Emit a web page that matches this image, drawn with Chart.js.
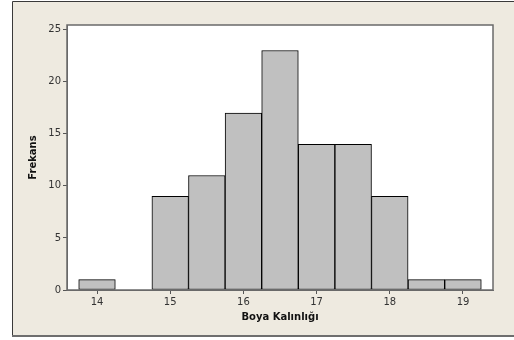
<!DOCTYPE html>
<html>
<head>
<meta charset="utf-8">
<script src="https://cdn.jsdelivr.net/npm/chart.js@4.4.1/dist/chart.umd.min.js"></script>
<style>
  html, body { margin: 0; padding: 0; background: #ffffff; }
  #wrap { width: 514px; height: 340px; position: relative; }
</style>
</head>
<body>
<div id="wrap"><canvas id="c" width="514" height="340"></canvas></div>
<script>
// Bin centres (paint thickness) and their counts
const binCenters = [14, 14.5, 15, 15.5, 16, 16.5, 17, 17.5, 18, 18.5, 19];
const frequencies = [1, 0, 9, 11, 17, 23, 14, 14, 9, 1, 1];
const xTickValues = [14, 15, 16, 17, 18, 19];
const yTickValues = [0, 5, 10, 15, 20, 25];
const xTitle = 'Boya Kalınlığı';
const yTitle = 'Frekans';

const FONT = '"DejaVu Sans", sans-serif';

// Beige panel behind the whole graph and a frame around the plot area
const panelPlugin = {
  id: 'panel',
  beforeDraw(chart) {
    const ctx = chart.ctx;
    ctx.save();
    ctx.fillStyle = '#ffffff';
    ctx.fillRect(0, 0, chart.width, chart.height);
    ctx.fillStyle = '#eeeae0';
    ctx.fillRect(13, 1, chart.width - 13, 335);
    ctx.strokeStyle = '#3a3a3a';
    ctx.lineWidth = 1;
    ctx.beginPath();
    ctx.moveTo(chart.width, 1.5);
    ctx.lineTo(12.5, 1.5);
    ctx.lineTo(12.5, 336);
    ctx.stroke();
    ctx.strokeStyle = '#6e6e6e';
    ctx.lineWidth = 2;
    ctx.beginPath();
    ctx.moveTo(12, 336);
    ctx.lineTo(chart.width, 336);
    ctx.stroke();
    const a = chart.chartArea;
    ctx.fillStyle = '#ffffff';
    ctx.fillRect(a.left, a.top, a.right - a.left, a.bottom - a.top);
    ctx.restore();
  },
  afterDraw(chart) {
    const ctx = chart.ctx;
    const a = chart.chartArea;
    ctx.save();
    ctx.strokeStyle = '#6a6a6a';
    ctx.lineWidth = 1.5;
    ctx.strokeRect(a.left, a.top, a.right - a.left, a.bottom - a.top);
    ctx.restore();
  }
};

new Chart(document.getElementById('c'), {
  type: 'bar',
  data: {
    datasets: [{
      data: binCenters.map((x, i) => ({ x: x, y: frequencies[i] })),
      backgroundColor: '#c0c0c0',
      borderColor: '#000000',
      borderWidth: 1,
      borderSkipped: false,
      barPercentage: 1,
      categoryPercentage: 1
    }]
  },
  options: {
    responsive: false,
    animation: false,
    events: [],
    layout: { padding: { left: 0, top: 25, right: 21, bottom: 0 } },
    plugins: { legend: { display: false }, tooltip: { enabled: false } },
    scales: {
      x: {
        type: 'linear',
        min: 13.59,
        max: 19.41,
        offset: false,
        afterFit(s) { s.height = 50; },
        afterBuildTicks(s) { s.ticks = xTickValues.map(v => ({ value: v })); },
        border: { display: true, color: '#6a6a6a', width: 1 },
        grid: { offset: false, drawOnChartArea: false, drawTicks: true, tickLength: 4, color: '#555555', lineWidth: 1 },
        ticks: { color: '#333333', font: { family: FONT, size: 10 }, padding: 2, maxRotation: 0 },
        title: {
          display: true, text: xTitle, color: '#111111',
          font: { family: FONT, size: 10, weight: 'bold' },
          padding: { top: 0, bottom: 17 }
        }
      },
      y: {
        min: 0,
        max: 25.45,
        afterFit(s) { s.width = 67; },
        afterBuildTicks(s) { s.ticks = yTickValues.map(v => ({ value: v })); },
        border: { display: true, color: '#6a6a6a', width: 1 },
        grid: { offset: false, drawOnChartArea: false, drawTicks: true, tickLength: 4, color: '#555555', lineWidth: 1 },
        ticks: { color: '#333333', font: { family: FONT, size: 10 }, padding: 2 },
        title: {
          display: true, text: yTitle, color: '#111111',
          font: { family: FONT, size: 10, weight: 'bold' },
          padding: { top: 27, bottom: 0 }
        }
      }
    }
  },
  plugins: [panelPlugin]
});
</script>
</body>
</html>
